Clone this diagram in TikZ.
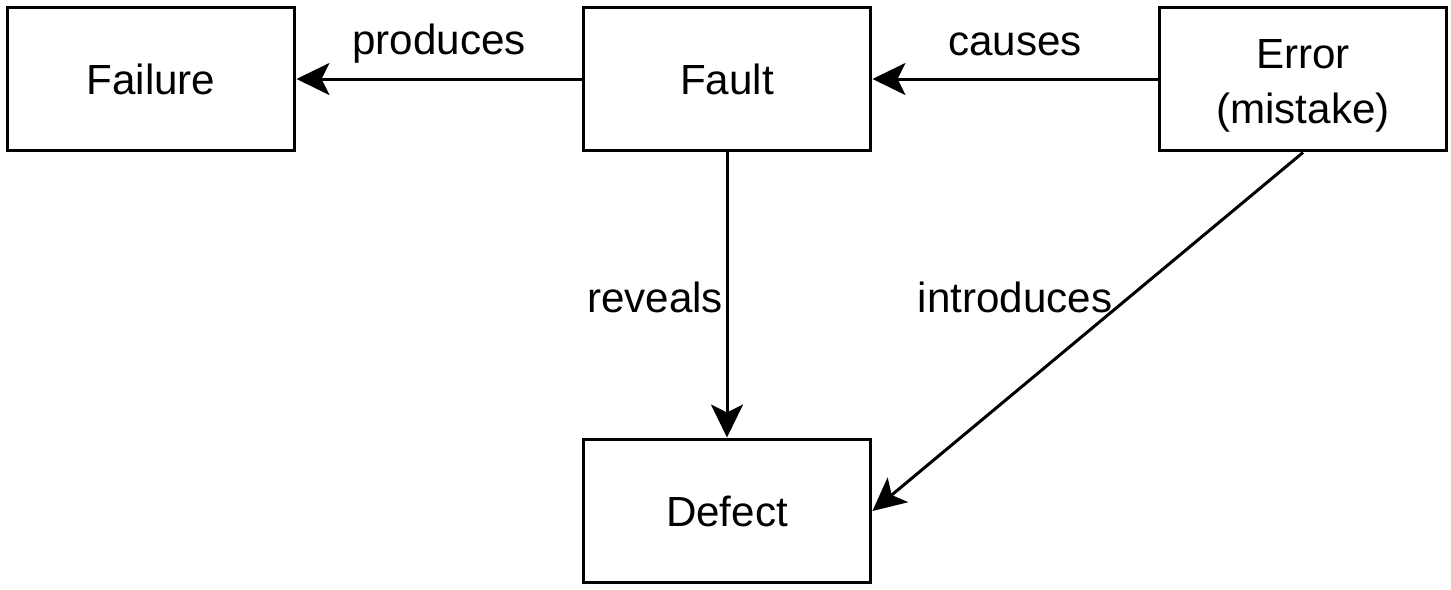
\documentclass[tikz,border=0pt]{standalone}
\usepackage{fontspec}
\setmainfont{Liberation Sans}
\usetikzlibrary{arrows.meta}
\begin{document}
\begin{tikzpicture}[x=0.02cm,y=-0.02cm,
  box/.style={draw,line width=0.06cm,minimum width=5.76cm,minimum height=2.88cm,inner sep=0pt,align=center,font=\fontsize{24}{31.5}\selectfont},
  conn/.style={line width=0.06cm,-{Stealth[length=0.66cm,width=0.64cm,inset=0.16cm]}},
  lbl/.style={font=\fontsize{24}{29}\selectfont,inner sep=0pt}]
\useasboundingbox (0,0) rectangle (1451,589);
\node[box] (failure) at (151,79) {Failure};
\node[box] (fault) at (727,79) {Fault};
\node[box] (error) at (1303,79) {\rule{0pt}{24pt}Error\\(mistake)};
\node[box] (defect) at (727,511) {Defect};
\draw[conn] (fault) -- (failure);
\draw[conn] (error) -- (fault);
\draw[conn] (fault) -- (defect);
\draw[conn] (error.south) -- (defect.east);
\node[lbl] (l1) at (439,44) {produces};
\node[lbl] (l2) at (1015,44) {causes};
\node[lbl] (l3) at (655,297) {reveals};
\node[lbl] (l4) at (1015,297) {introduces};
\end{tikzpicture}
\end{document}
